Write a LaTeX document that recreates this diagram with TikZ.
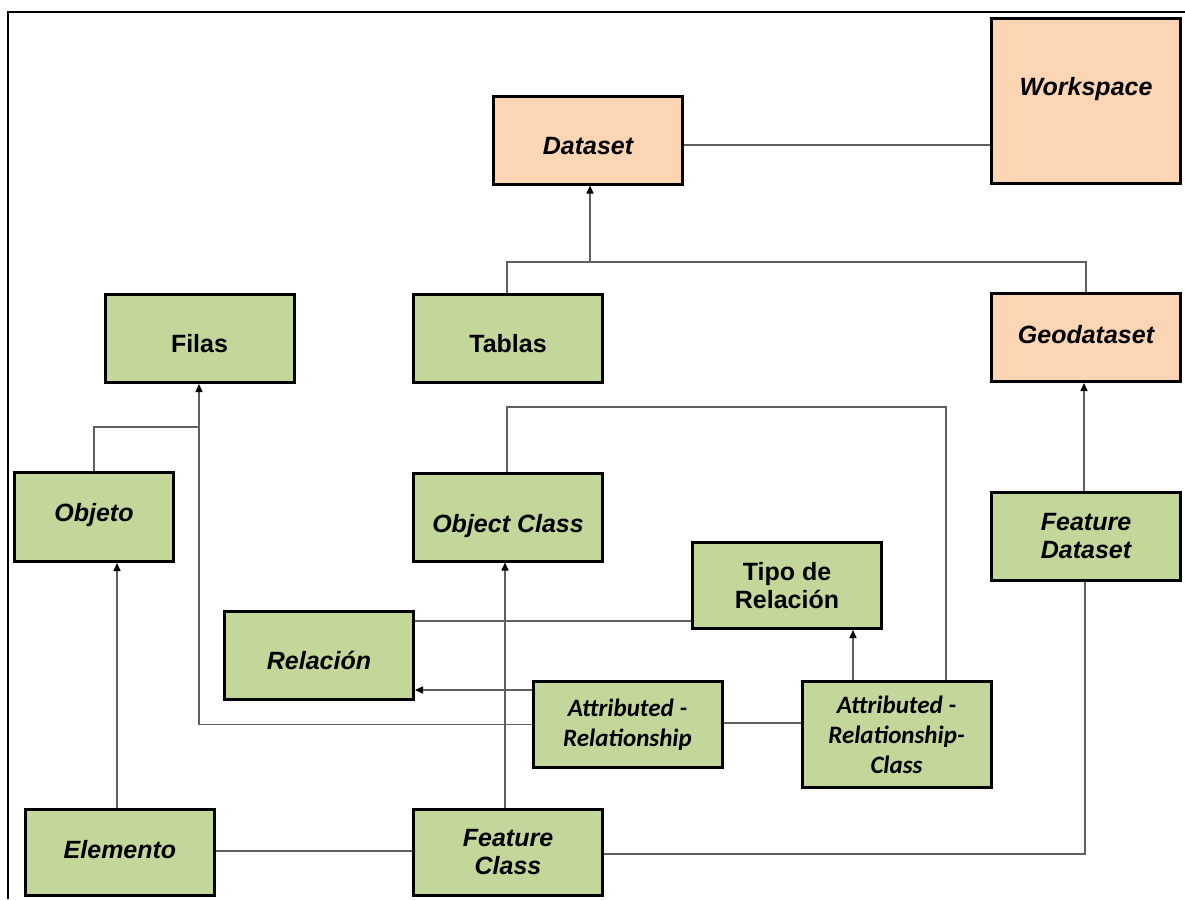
\documentclass[tikz,border=0pt]{standalone}
\usepackage{fontspec}
\setmainfont{Liberation Sans}
\newfontfamily\calibrifont{Carlito}
\usetikzlibrary{arrows.meta}

\definecolor{boxgreen}{HTML}{C4D79B}
\definecolor{boxtan}{HTML}{FCD5B4}
\definecolor{wiregray}{HTML}{5F5F5F}

\begin{document}
\begin{tikzpicture}[x=1pt,y=-1pt,
	box/.style={draw=black,line width=3pt,inner sep=0pt,align=center,
		minimum width=189pt,minimum height=88pt,
		font=\fontsize{25}{28}\selectfont\bfseries\itshape},
	gbox/.style={box,fill=boxgreen},
	tbox/.style={box,fill=boxtan},
	upright/.style={font=\fontsize{25}{28}\selectfont\bfseries},
	calibri/.style={font=\calibrifont\fontsize{25}{30}\selectfont\bfseries\itshape},
	tline/.style={text height=#1,text depth=0pt}]

\useasboundingbox (0,0) rectangle (1185,899);
\draw[line width=2pt] (8,899) -- (8,12) -- (1185,12);

\node[tbox,tline=28pt] (ds) at (588,140) {Dataset};
\node[tbox,text height=76.5pt,text depth=88.5pt] (ws) at (1086,101) {Workspace};
\node[gbox,upright,tline=27pt] (fil) at (199.5,338.5) {Filas};
\node[gbox,upright,tline=27pt] (tab) at (508,338.5) {Tablas};
\node[tbox,tline=11pt] (geo) at (1086,337.5) {Geodataset};
\node[gbox,tline=8pt,minimum width=159pt,minimum height=89pt] (obj) at (94,517) {Objeto};
\node[gbox,tline=30pt] (ocl) at (508,517) {Object Class};
\node[gbox,tline=27pt] (rel) at (319,655.5) {Relación};
\node[gbox,upright,minimum height=86pt] (tip) at (787,585.5) {Tipo de\\Relación};
\node[gbox] (fds) at (1086,536.5) {Feature\\Dataset};
\node[gbox,calibri,minimum height=86pt] (arl) at (627.5,724.5) {Attributed -\\Relationship};
\node[gbox,calibri,minimum height=106pt] (arc) at (896.5,734.5) {Attributed -\\Relationship-\\Class};
\node[gbox,tline=11pt,minimum height=86pt] (ele) at (120,852.5) {Elemento};
\node[gbox,minimum height=86pt] (fcl) at (508,852.5) {Feature\\Class};

\coordinate (jds) at (590,262);
\coordinate (jfl) at (199,427);
\coordinate (jocl) at (946,407);

\begin{scope}[>={Triangle[black,length=8pt,width=7pt]}, every path/.style={draw=wiregray,line width=1.5pt}]
	\draw ([yshift=-5pt]ds.east) -- ([yshift=-5pt]ds.east -| ws.west);
	\draw[->] ([xshift=-1pt]tab.north) |- (jds) -- (jds |- ds.south);
	\draw (jds) -| (geo.north);
	\draw[->] ([xshift=-2pt]fds.north) -- ([xshift=-2pt]geo.south);
	\draw[->] (obj.north) |- (jfl) -- (jfl |- fil.south);
	\draw (arl.west) -| (jfl);
	\draw[->] ([xshift=-3pt]ele.north) -- ([xshift=-3pt]ele.north |- obj.south);
	\draw[->] ([xshift=-3pt]fcl.north) -- ([xshift=-3pt]fcl.north |- ocl.south);
	\draw ([xshift=-1pt]ocl.north) |- (jocl) -- (jocl |- arc.north);
	\draw ([yshift=34.5pt]rel.east) -- ([yshift=34.5pt]rel.east -| tip.west);
	\draw[->] ([yshift=-34.5pt]rel.east -| arl.west) -- ([yshift=-34.5pt]rel.east);
	\draw ([yshift=1.5pt]arl.east) -- ([yshift=1.5pt]arl.east -| arc.west);
	\draw[->] ([xshift=66pt]tip.south |- arc.north) -- ([xshift=66pt]tip.south);
	\draw ([yshift=1.5pt]ele.east) -- ([yshift=1.5pt]ele.east -| fcl.west);
	\draw ([yshift=-1.5pt]fcl.east) -| ([xshift=-1pt]fds.south);
\end{scope}

\end{tikzpicture}
\end{document}
